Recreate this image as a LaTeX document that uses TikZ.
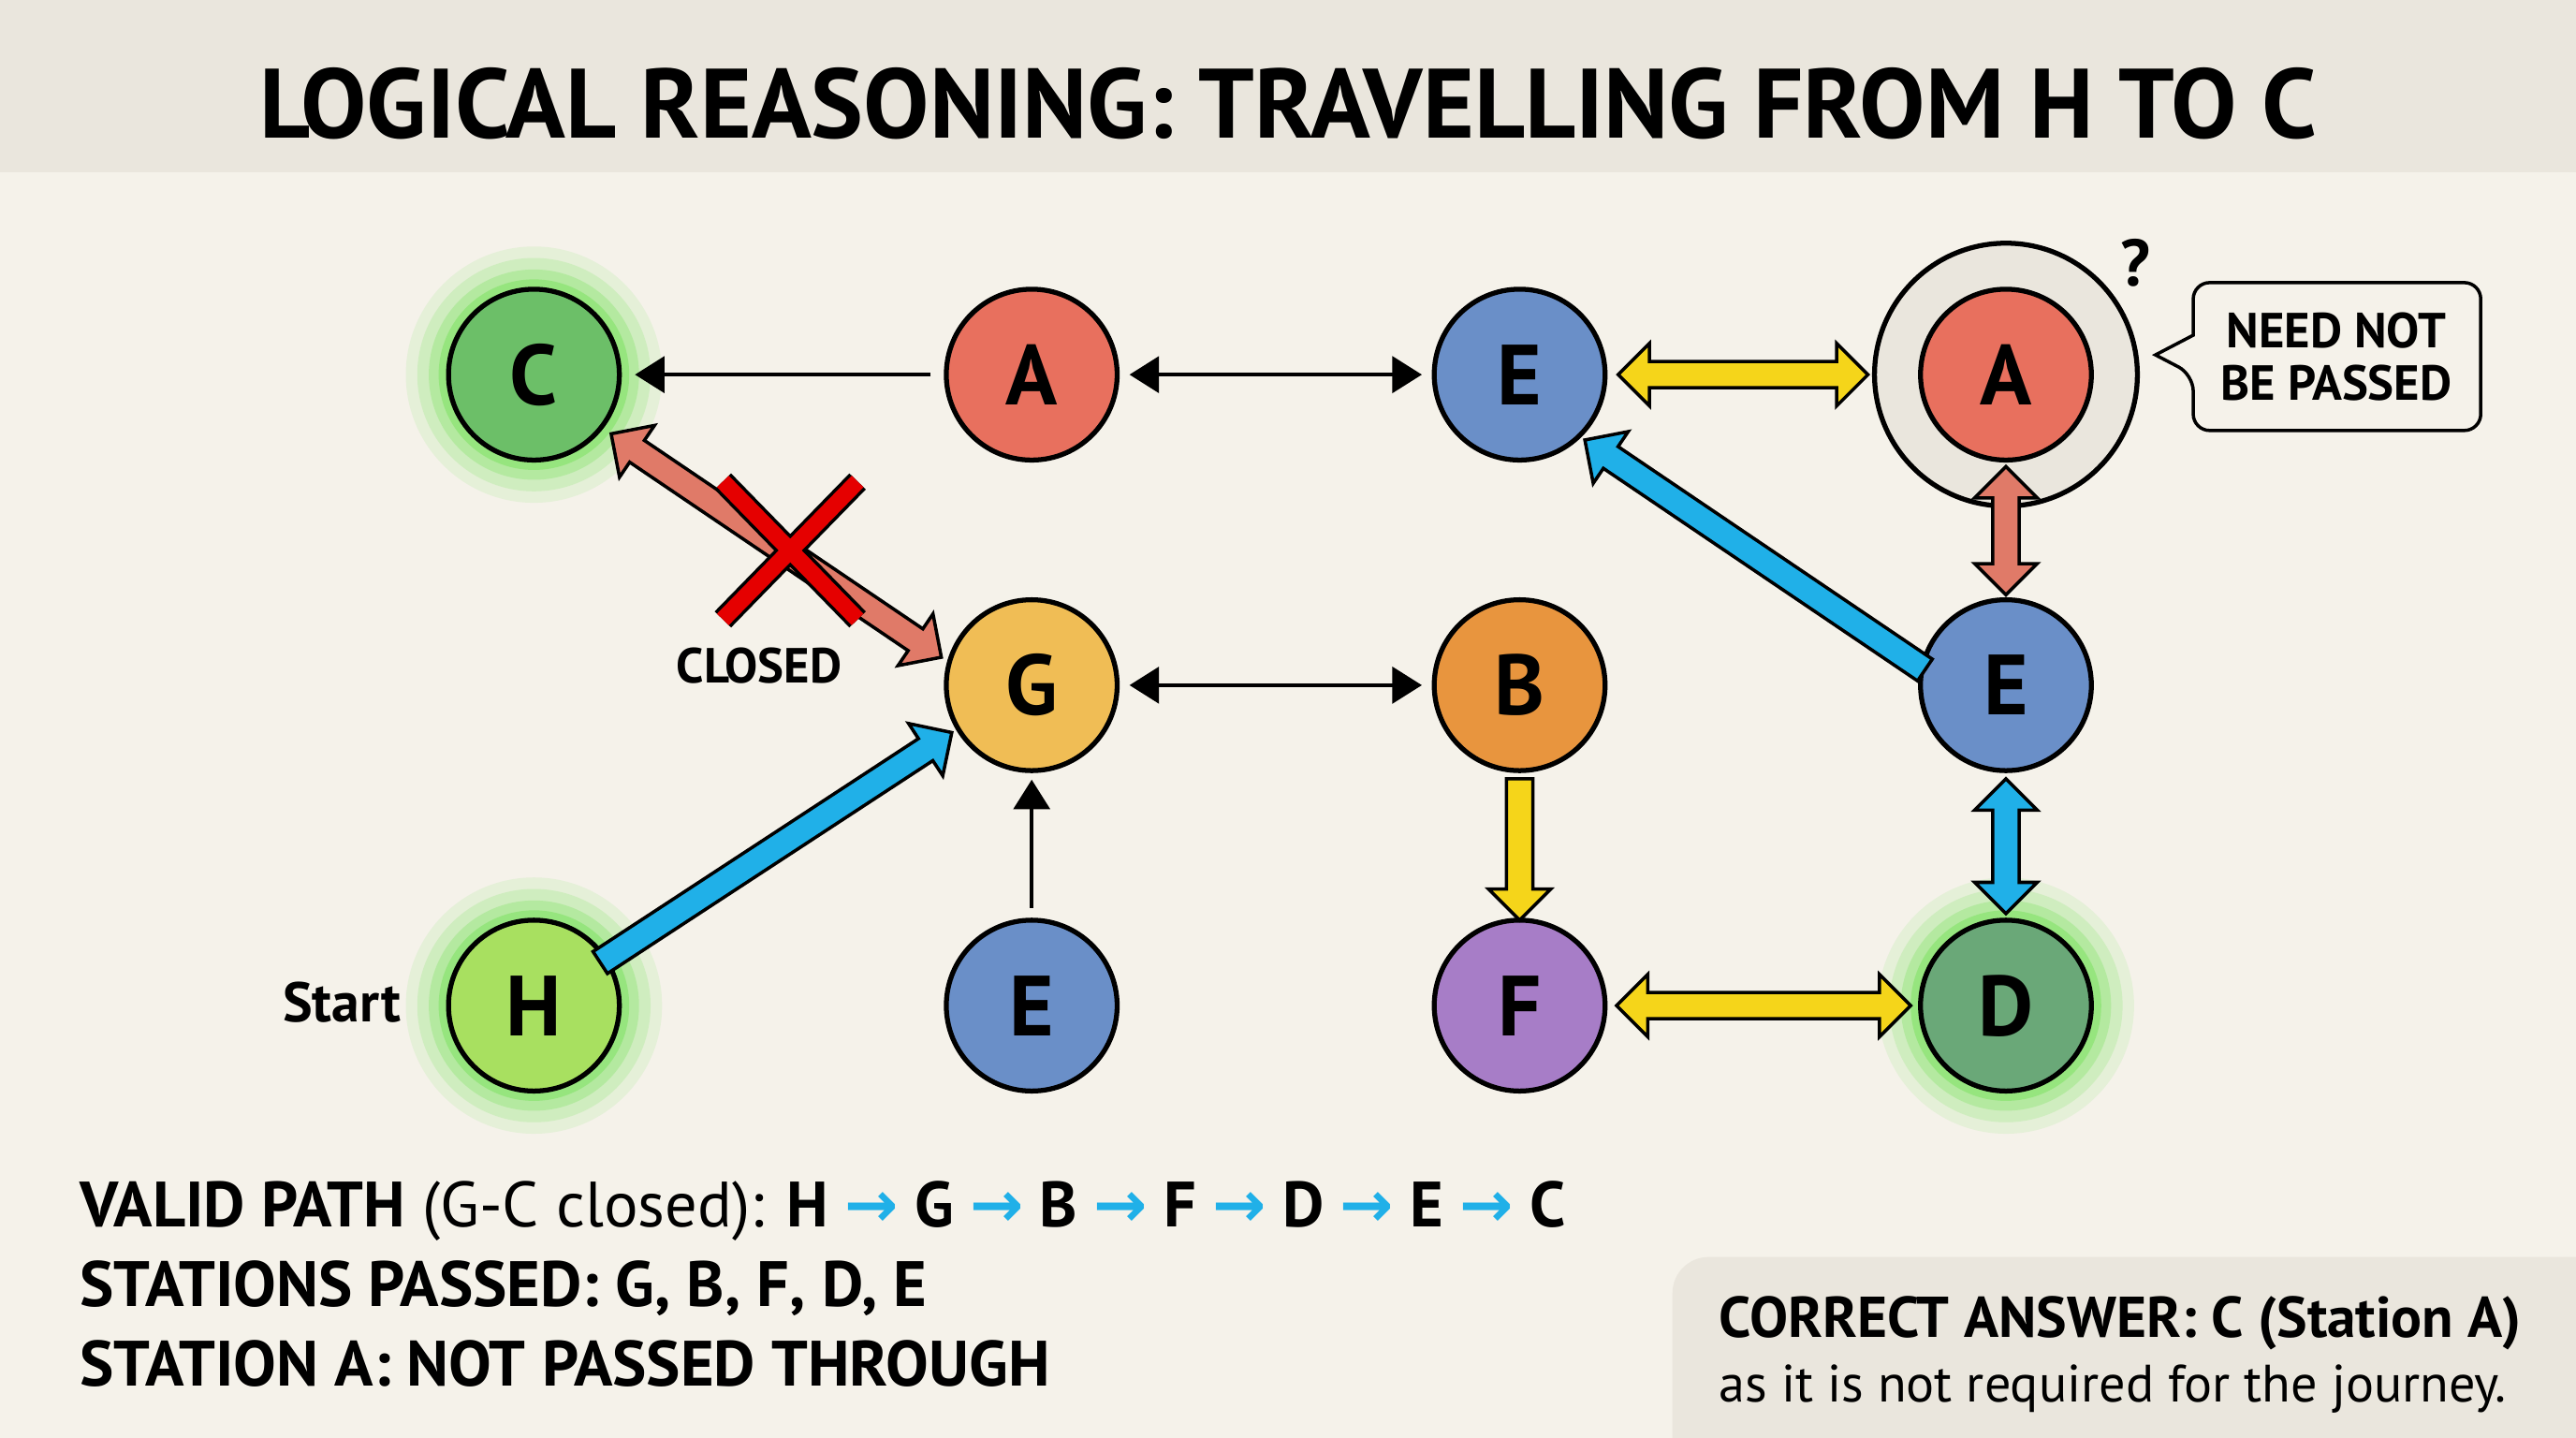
\documentclass[tikz,border=0pt]{standalone}
\usepackage{fontspec}
\setmainfont{PT Sans}
\newfontfamily\dv{DejaVu Sans}
\usetikzlibrary{shapes.arrows,calc,arrows.meta}
\definecolor{bg}{HTML}{F5F2EA}
\definecolor{band}{HTML}{EAE6DD}
\definecolor{cgreen}{HTML}{6CBF68}
\definecolor{cred}{HTML}{E8705E}
\definecolor{cblue}{HTML}{6A8FC8}
\definecolor{cyel}{HTML}{F0BD55}
\definecolor{corange}{HTML}{E8953E}
\definecolor{cpurple}{HTML}{A77DC7}
\definecolor{clime}{HTML}{A8E060}
\definecolor{cdgreen}{HTML}{6AA878}
\definecolor{fyel}{HTML}{F5D51A}
\definecolor{fblue}{HTML}{20B0E8}
\definecolor{fred}{HTML}{E07A68}
\definecolor{glowc}{HTML}{60E040}
\tikzset{
 stn/.style={circle,draw=black,line width=3pt,minimum size=104pt,inner sep=0pt,font=\fontsize{52}{52}\selectfont\bfseries},
 thin/.style={line width=2.5pt,-{Triangle[length=18pt,width=22pt]}},
 thinb/.style={line width=2.5pt,{Triangle[length=18pt,width=22pt]}-{Triangle[length=18pt,width=22pt]}},
 fat/.style={draw=black,line width=2pt,inner xsep=0pt,inner ysep=0pt,text height=14pt,text depth=0pt,minimum width=36pt,single arrow head extend=11pt,single arrow head indent=0pt,double arrow head extend=11pt,double arrow head indent=0pt},
 lbl/.style={font=\fontsize{30}{30}\selectfont\bfseries},
}
\newcommand{\fatarr}[4]{% from, to, color, shape
 \path let \p1=($(#2)-(#1)$), \n1={atan2(\y1,\x1)}, \n2={veclen(\x1,\y1)} in
  node[fat,#4,fill=#3,rotate=\n1,minimum height=\n2] at ($(#1)!0.5!(#2)$) {};}
\newcommand{\glow}[1]{\foreach \r/\o in {78/0.10,71/0.16,64/0.24,58/0.35}{\fill[glowc,opacity=\o] (#1) circle (\r pt);}}
\begin{document}
\begin{tikzpicture}[x=1pt,y=-1pt]
\fill[bg] (0,0) rectangle (1568,875);
\useasboundingbox (0,0) rectangle (1568,875);
\fill[band] (0,0) rectangle (1568,105);
\node[font=\fontsize{60}{60}\selectfont\bfseries] (title) at (784,63) {LOGICAL REASONING: TRAVELLING FROM H TO C};
% glows
\glow{325,228}\glow{325,612}\glow{1221,612}
% ring
\node[circle,draw=black,line width=3pt,fill=band,minimum size=160pt] (ring) at (1221,228) {};
% stations
\node[stn,fill=cgreen] (C) at (325,228) {C};
\node[stn,fill=cred] (A) at (628,228) {A};
\node[stn,fill=cblue] (E1) at (925,228) {E};
\node[stn,fill=cred] (A2) at (1221,228) {A};
\node[stn,fill=cyel] (G) at (628,417) {G};
\node[stn,fill=corange] (B) at (925,417) {B};
\node[stn,fill=cblue] (E2) at (1221,417) {E};
\node[stn,fill=clime] (H) at (325,612) {H};
\node[stn,fill=cblue] (E3) at (628,612) {E};
\node[stn,fill=cpurple] (F) at (925,612) {F};
\node[stn,fill=cdgreen] (D) at (1221,612) {D};
% thin arrows
\draw[thin] ([xshift=-8pt]A.west) -- ([xshift=8pt]C.east);
\draw[thinb] ([xshift=6pt]A.east) -- ([xshift=-6pt]E1.west);
\draw[thinb] ([xshift=6pt]G.east) -- ([xshift=-6pt]B.west);
\draw[thin] ([yshift=6pt]E3.north) -- ([yshift=-4pt]G.south);
% fat arrows
\coordinate (p1) at (985,228); \coordinate (p2) at (1137,228);
\fatarr{p1}{p2}{fyel}{double arrow}
\coordinate (p3) at (1221,284); \coordinate (p4) at (1221,362);
\fatarr{p3}{p4}{fred}{double arrow}
\coordinate (p5) at (1175,410); \coordinate (p6) at (968,270);
\fatarr{p5}{p6}{fblue}{single arrow}
\coordinate (p7) at (1221,474); \coordinate (p8) at (1221,556);
\fatarr{p7}{p8}{fblue}{double arrow}
\coordinate (p9) at (925,470); \coordinate (p10) at (925,556);
\fatarr{p9}{p10}{fyel}{single arrow}
\coordinate (p11) at (984,612); \coordinate (p12) at (1163,612);
\fatarr{p11}{p12}{fyel}{double arrow}
\coordinate (p13) at (362,588); \coordinate (p14) at (576,448);
\fatarr{p13}{p14}{fblue}{single arrow}
\coordinate (p15) at (372,264); \coordinate (p16) at (573,400);
\fatarr{p15}{p16}{fred}{double arrow}
% X
\coordinate (x1) at (440,293); \coordinate (x2) at (522,377);
\coordinate (x3) at (522,293); \coordinate (x4) at (440,377);
\draw[line width=14pt,black] (x1)--(x2) (x3)--(x4);
\draw[line width=10pt,red!90!black] (x1)--(x2) (x3)--(x4);
% labels
\node[lbl] (closed) at (462,405) {CLOSED};
\node[font=\fontsize{34}{34}\selectfont\bfseries] (start) at (208,610) {Start};
\node[font=\fontsize{40}{40}\selectfont\bfseries] (q) at (1300,160) {?};
% callout
\draw[line width=2pt,fill=bg,rounded corners=10pt] (1335,172) -- (1510,172) -- (1510,262) -- (1335,262) -- (1335,228) [sharp corners] -- (1312,216) -- (1335,204) [rounded corners=10pt] -- cycle;
\node[lbl,align=center,font=\fontsize{30}{32}\selectfont\bfseries] (np) at (1422,217) {NEED NOT\\BE PASSED};
% bottom text
\def\ar{\textcolor{fblue}{\dv\bfseries →}}
\node[anchor=west,font=\fontsize{39}{39}\selectfont] (l1) at (45,737) {\textbf{VALID PATH} (G-C closed): \textbf{H \ar{} G \ar{} B \ar{} F \ar{} D \ar{} E \ar{} C}};
\node[anchor=west,font=\fontsize{39}{39}\selectfont\bfseries] (l2) at (45,784) {STATIONS PASSED: G, B, F, D, E};
\node[anchor=west,font=\fontsize{39}{39}\selectfont\bfseries] (l3) at (45,830) {STATION A: NOT PASSED THROUGH};
\fill[band,rounded corners=22pt] (1018,765) rectangle (1600,900);
\node[anchor=west,font=\fontsize{35}{35}\selectfont\bfseries] (ca) at (1043,805) {CORRECT ANSWER: C (Station A)};
\node[anchor=west,font=\fontsize{32}{32}\selectfont] (cb) at (1043,845) {as it is not required for the journey.};
\end{tikzpicture}
\end{document}
